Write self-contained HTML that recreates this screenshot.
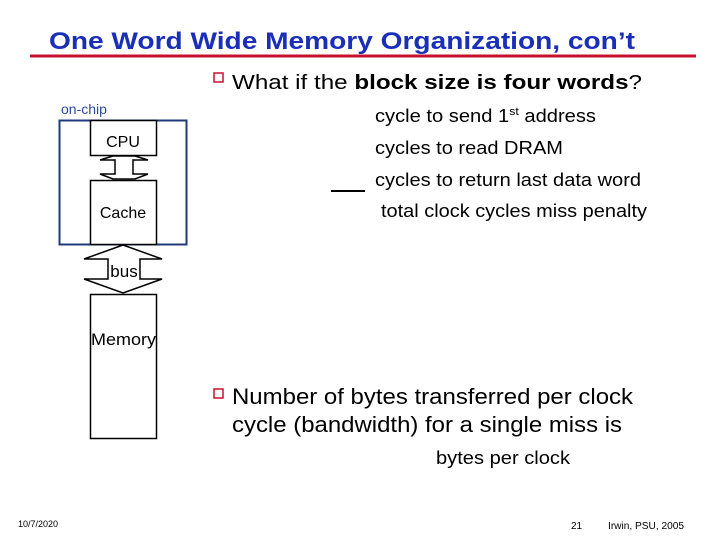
<!DOCTYPE html>
<html><head><meta charset="utf-8"><style>
body{margin:0;background:#fff;width:720px;height:540px;overflow:hidden}
svg text{font-family:"Liberation Sans",Arial,sans-serif}
</style></head><body>
<svg width="720" height="540" xmlns="http://www.w3.org/2000/svg">
<text x="49" y="49" font-size="24" font-weight="bold" fill="#1a2fb8" textLength="586" lengthAdjust="spacingAndGlyphs">One Word Wide Memory Organization, con’t</text>
<line x1="30" y1="56" x2="696" y2="56" stroke="#c8102e" stroke-width="3"/>
<rect x="214" y="73" width="9" height="9" fill="none" stroke="#c8102e" stroke-width="1.5"/>
<text x="232" y="89" font-size="20" fill="#000" textLength="410" lengthAdjust="spacingAndGlyphs">What if the <tspan font-weight="bold">block size is four words</tspan>?</text>
<text x="61" y="114" font-size="14" fill="#2a4a9a">on-chip</text>
<rect x="59.5" y="120.5" width="127" height="124" fill="none" stroke="#1f3a7a" stroke-width="2"/>
<rect x="90.5" y="120.5" width="66" height="35" fill="#fff" stroke="#000" stroke-width="1.5"/>
<text x="123" y="147" font-size="16" text-anchor="middle">CPU</text>
<path d="M113,156 L100,160 L115,160 L115,174 L100,174 L113,179 L135,179 L148,174 L133,174 L133,160 L148,160 L135,156 Z" fill="#fff" stroke="#000" stroke-width="1.5"/>
<rect x="90.5" y="180.5" width="66" height="64" fill="#fff" stroke="#000" stroke-width="1.5"/>
<text x="123" y="218" font-size="16" text-anchor="middle">Cache</text>
<path d="M123,245 L84,259 L108,259 L108,279 L84,279 L123,293 L162,279 L140,279 L140,259 L162,259 Z" fill="#fff" stroke="#000" stroke-width="1.5"/>
<text x="124" y="277" font-size="17" text-anchor="middle">bus</text>
<rect x="90.5" y="294.5" width="66" height="144" fill="#fff" stroke="#000" stroke-width="1.5"/>
<text x="91" y="345" font-size="17" textLength="65" lengthAdjust="spacingAndGlyphs">Memory</text>
<text x="375" y="122" font-size="18" textLength="221" lengthAdjust="spacingAndGlyphs">cycle to send 1<tspan font-size="11" dy="-7">st</tspan><tspan dy="7"> address</tspan></text>
<text x="375" y="154" font-size="18" textLength="188" lengthAdjust="spacingAndGlyphs">cycles to read DRAM</text>
<text x="375" y="186" font-size="18" textLength="266" lengthAdjust="spacingAndGlyphs">cycles to return last data word</text>
<line x1="331" y1="191" x2="365" y2="191" stroke="#000" stroke-width="2"/>
<text x="381" y="217" font-size="18" textLength="266" lengthAdjust="spacingAndGlyphs">total clock cycles miss penalty</text>
<rect x="214" y="389" width="9" height="9" fill="none" stroke="#c8102e" stroke-width="1.5"/>
<text x="232" y="404" font-size="22" textLength="401" lengthAdjust="spacingAndGlyphs">Number of bytes transferred per clock</text>
<text x="232" y="432" font-size="22" textLength="390" lengthAdjust="spacingAndGlyphs">cycle (bandwidth) for a single miss is</text>
<text x="436" y="464" font-size="18" textLength="134" lengthAdjust="spacingAndGlyphs">bytes per clock</text>
<text x="18" y="527" font-size="9" font-family="Liberation Serif">10/7/2020</text>
<text x="571" y="529" font-size="10">21</text>
<text x="608" y="529" font-size="10" textLength="76" lengthAdjust="spacingAndGlyphs">Irwin, PSU, 2005</text>
</svg>
</body></html>
